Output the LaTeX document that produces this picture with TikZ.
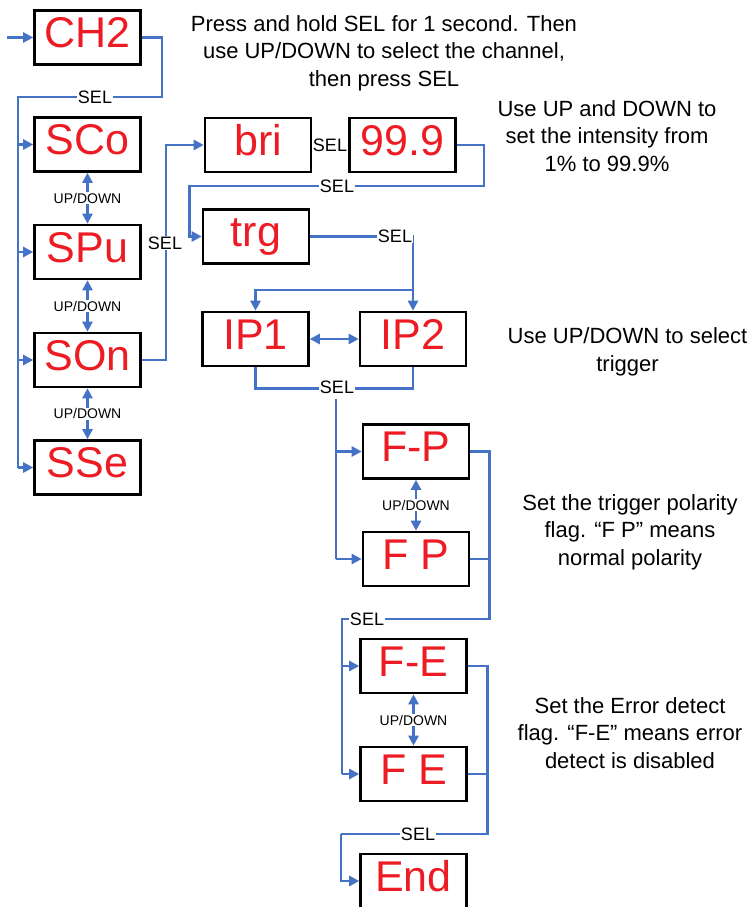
\documentclass[tikz,border=0pt]{standalone}
\usepackage{fontspec}
\setmainfont{Liberation Sans}
\usepackage{xcolor}
\usepackage{tikz}
\usetikzlibrary{positioning,calc,arrows.meta}
\definecolor{segred}{RGB}{237,28,36}
\definecolor{linkblue}{RGB}{68,114,196}
\tikzset{
    box/.style={draw=black,line width=2.6pt,minimum width=106pt,minimum height=54pt,inner sep=0pt,text=segred,text height=30pt,text depth=10pt,font=\fontsize{43}{43}\selectfont},
    link/.style={draw=linkblue,line width=2.6pt},
    sel/.style={fill=white,inner sep=1pt,font=\fontsize{18}{18}\selectfont},
    updown/.style={fill=white,inner sep=1pt,font=\fontsize{14}{14}\selectfont},
    note/.style={align=center,font=\fontsize{22}{27.5}\selectfont}
}

\begin{document}
\begin{tikzpicture}[x=1pt,y=-1pt,>={Triangle[length=10pt,width=10pt]}]
    \useasboundingbox (0,0) rectangle (752,907);
    \clip (0,0) rectangle (752,907);

    \node[box] (ch2) at (87.5,37.5) {CH2};
    \foreach \n/\t/\y in {sco/SCo/144.5, spu/SPu/252, son/SOn/360, sse/SSe/467.5} {
        \node[box] (\n) at (87.5,\y) {\t};
    }
    \node[box] (bri) at (258,145) {bri};
    \node[box] (pct) at (402.5,145) {99.9};
    \node[box] (trg) at (256,236.5) {trg};
    \node[box] (ip1) at (255.5,339) {IP1};
    \node[box] (ip2) at (413,339) {IP2};
    \node[box] (fpa) at (416,451.5) {F-P};
    \node[box] (fpb) at (416,559) {F P};
    \node[box] (fea) at (413.5,666) {F-E};
    \node[box] (feb) at (413.5,774) {F E};
    \node[box] (endb) at (413.5,881) {End};

    \coordinate (start) at (7,37.5);
    \coordinate (bus) at (18,97);
    \coordinate (split) at (413,290);
    \coordinate (fbus) at (336,399);
    \coordinate (ebus) at (342,619);
    \coordinate (gbus) at (341,834);

    \draw[link,->] (start) -- (ch2);
    \draw[link] (ch2.east) -- ++(20,0) |- (bus) -- (bus |- sse.west);
    \foreach \n in {sco,spu,son,sse} {
        \draw[link,->] (bus |- \n.west) -- (\n.west);
    }
    \foreach \a/\b in {sco/spu, spu/son, son/sse, fpa/fpb, fea/feb} {
        \draw[link,<->] (\a.south) -- (\b.north) node[midway,updown] {UP/DOWN};
    }

    \draw[link,->] (son.east) -- ++(24,0) |- (bri.west);
    \draw[link] (bri) -- (pct);
    \draw[link,->] (pct.east) -- ++(27,0) -- ++(0,41) -| ([xshift=-12pt]trg.west) -- (trg.west);
    \draw[link,->] (trg.east) -| (ip2.north);
    \draw[link,->] (split) -| (ip1.north);
    \draw[link,<->] (ip1) -- (ip2);
    \draw[link] (ip1.south) -- ++(0,21) -| (ip2.south);

    \draw[link] (fbus) -- (fbus |- fpb.west);
    \foreach \n in {fpa,fpb} {
        \draw[link,->] (fbus |- \n.west) -- (\n.west);
    }
    \draw[link] (fpa.east) -- ++(19,0) |- (ebus) -- (ebus |- feb.west);
    \draw[link] (fpb.east) -- ++(19,0);
    \foreach \n in {fea,feb} {
        \draw[link,->] (ebus |- \n.west) -- (\n.west);
    }
    \draw[link] (fea.east) -- ++(19.5,0) |- (gbus);
    \draw[link,->] (gbus) |- (endb.west);
    \draw[link] (feb.east) -- ++(19.5,0);

    \node[sel] (selch) at (95,97) {SEL};
    \node[sel] (selon) at (165,243) {SEL};
    \node[sel] (selbri) at (330,145) {SEL};
    \node[sel] (selpct) at (337,186) {SEL};
    \node[sel] (seltrg) at (395,236) {SEL};
    \node[sel] (selip) at (337,387) {SEL};
    \node[sel] (selfp) at (367,619) {SEL};
    \node[sel] (selfe) at (418,834) {SEL};

    \node[note] (help1) at (384,53) {Press and hold SEL for 1 second. Then\\use UP/DOWN to select the channel,\\then press SEL};
    \node[note] (help2) at (607,136) {Use UP and DOWN to\\set the intensity from\\1\% to 99.9\%};
    \node[note] (help3) at (627.5,352) {Use UP/DOWN to select\\trigger};
    \node[note] (help4) at (630,532) {Set the trigger polarity\\flag. “F P” means\\normal polarity};
    \node[note] (help5) at (630,733) {Set the Error detect\\flag. “F-E” means error\\detect is disabled};
\end{tikzpicture}
\end{document}
